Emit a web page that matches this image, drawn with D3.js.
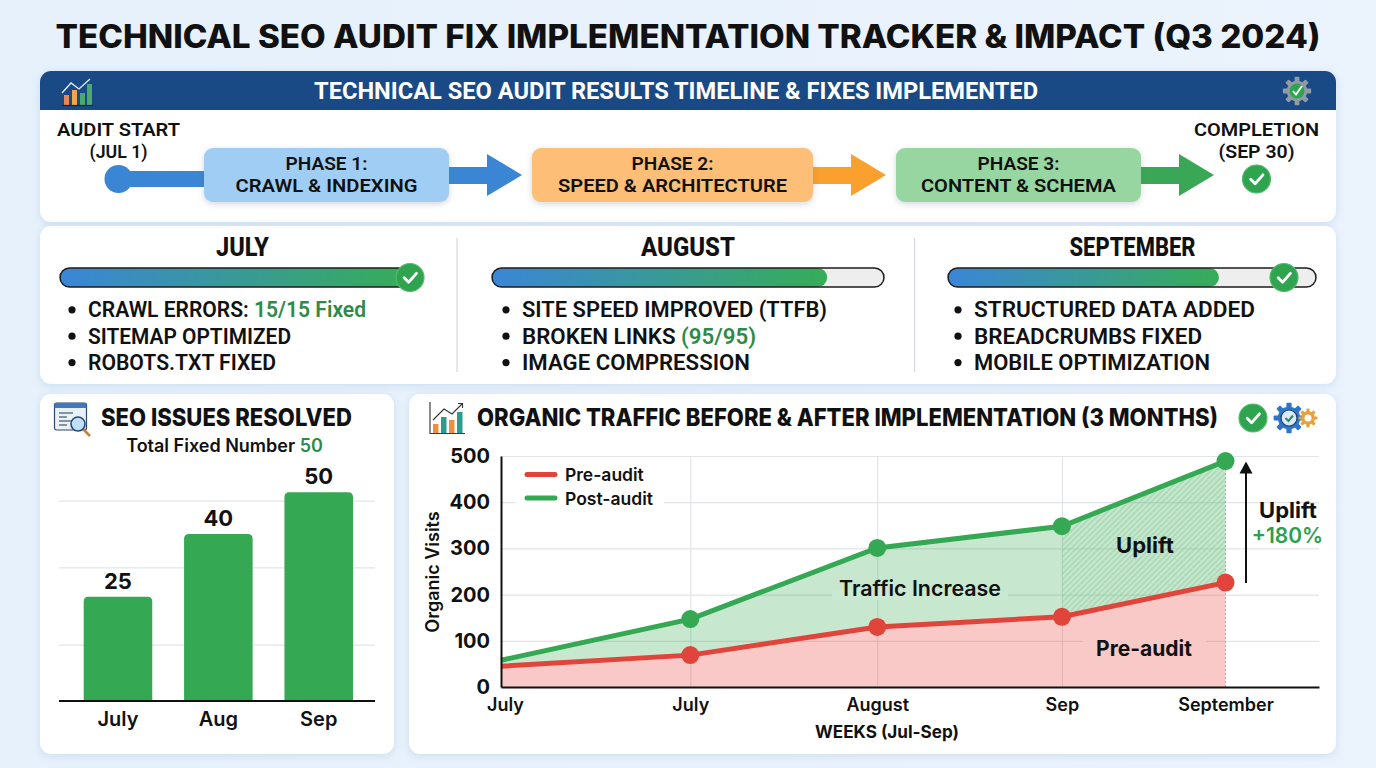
<!DOCTYPE html>
<html>
<head>
<meta charset="utf-8">
<script src="https://cdnjs.cloudflare.com/ajax/libs/d3/7.8.5/d3.min.js"></script>
<style>
  html, body { margin: 0; padding: 0; background: #e8f2fc; overflow: hidden; }
  svg { display: block; }
  text { fill: #111; font-family: Roboto, sans-serif; }
  .wide, .wide text { font-family: Inter, "Open Sans", sans-serif; }
</style>
</head>
<body>
<svg width="1376" height="768"></svg>
<script>
// ---- data ----
const mainTitle = "TECHNICAL SEO AUDIT FIX IMPLEMENTATION TRACKER & IMPACT (Q3 2024)";
const timelineTitle = "TECHNICAL SEO AUDIT RESULTS TIMELINE & FIXES IMPLEMENTED";

const phaseTitles = ["PHASE 1:", "PHASE 2:", "PHASE 3:"];
const phaseNames = ["CRAWL & INDEXING", "SPEED & ARCHITECTURE", "CONTENT & SCHEMA"];

const monthNames = ["JULY", "AUGUST", "SEPTEMBER"];
const monthProgress = [100, 85.5, 73.6];
const monthChecks = [100, null, 91.3];
const julyItems = ["CRAWL ERRORS: 15/15 Fixed", "SITEMAP OPTIMIZED", "ROBOTS.TXT FIXED"];
const augustItems = ["SITE SPEED IMPROVED (TTFB)", "BROKEN LINKS (95/95)", "IMAGE COMPRESSION"];
const septemberItems = ["STRUCTURED DATA ADDED", "BREADCRUMBS FIXED", "MOBILE OPTIMIZATION"];

const barMonths = ["July", "Aug", "Sep"];
const barValues = [25, 40, 50];
const barGridValues = [13.5, 32, 48];

const weekPositions = [0, 4.05, 8.05, 12, 15.5];
const weekLabels = ["July", "July", "August", "Sep", "September"];
const preAudit = [45, 69, 130, 152, 226];
const postAudit = [58, 147, 301, 348, 489];
const visitTicks = [0, 100, 200, 300, 400, 500];

// ---- helpers ----
const svg = d3.select("svg");
const defs = svg.append("defs");
const GREEN = "#34a853";
const TEXT_GREEN = "#2e8b47";
const RED = "#e0443a";

function label(parent, x, y, str, size, weight, opts = {}) {
  const t = parent.append("text")
    .attr("x", x)
    .attr("y", y)
    .attr("font-size", size)
    .attr("font-weight", weight)
    .attr("text-anchor", opts.anchor || "middle")
    .text(str);
  if (opts.fill) t.style("fill", opts.fill);
  if (opts.font) t.style("font-family", opts.font);
  if (opts.width) t.attr("textLength", opts.width).attr("lengthAdjust", "spacingAndGlyphs");
  return t;
}

function checkBadge(parent, cx, cy, r) {
  const g = parent.append("g").attr("transform", `translate(${cx},${cy})`);
  g.append("circle").attr("r", r).attr("fill", "#2ea44f").attr("stroke", "#57b96f").attr("stroke-width", 1.2);
  g.append("path")
    .attr("d", `M${-r * 0.42},${r * 0.02} L${-r * 0.1},${r * 0.34} L${r * 0.46},${-r * 0.3}`)
    .attr("fill", "none").attr("stroke", "#fff").attr("stroke-width", r * 0.2)
    .attr("stroke-linecap", "round").attr("stroke-linejoin", "round");
}

function gear(parent, cx, cy, r, fill) {
  const g = parent.append("g").attr("transform", `translate(${cx},${cy})`);
  d3.range(8).forEach((i) => {
    g.append("rect")
      .attr("x", -r * 0.2).attr("y", -r * 1.18)
      .attr("width", r * 0.4).attr("height", r * 0.5)
      .attr("rx", 1)
      .attr("fill", fill)
      .attr("transform", `rotate(${i * 45})`);
  });
  g.append("circle").attr("r", r * 0.86).attr("fill", fill);
  return g;
}

function panel(x, y, w, h) {
  return svg.append("rect")
    .attr("x", x).attr("y", y).attr("width", w).attr("height", h)
    .attr("rx", 11).attr("fill", "#fff")
    .style("filter", "drop-shadow(0 2px 4px rgba(110, 150, 200, 0.22))");
}

// ---- background and panels ----
const bg = defs.append("linearGradient").attr("id", "page-bg").attr("x1", "0%").attr("x2", "100%");
bg.append("stop").attr("offset", "0%").attr("stop-color", "#e6f1fb");
bg.append("stop").attr("offset", "100%").attr("stop-color", "#ebf3fd");
svg.append("rect").attr("width", 1376).attr("height", 768).attr("fill", "url(#page-bg)");

panel(40, 71, 1296, 151);
panel(40, 226, 1296, 158);
panel(40, 394, 354, 360);
panel(409, 394, 927, 360);

label(svg, 688, 48, mainTitle, 32, 800, { font: "Inter", width: 1265 });

// ---- timeline panel ----
svg.append("path")
  .attr("d", "M40,110 V82 A11,11 0 0 1 51,71 H1325 A11,11 0 0 1 1336,82 V110 Z")
  .attr("fill", "#1a4a85");
label(svg, 676, 99, timelineTitle, 24, 700, { width: 724 }).style("fill", "#fff");

// chart icon in the header
const hdrIcon = svg.append("g").attr("transform", "translate(62,78)");
[[2, 17, 10, "#e8875a"], [10, 12, 15, "#f0a64a"], [18, 15, 12, "#4aa96c"], [25, 6, 21, "#4aa96c"]].forEach((b) => {
  hdrIcon.append("rect").attr("x", b[0]).attr("y", b[1]).attr("width", 5).attr("height", b[2]).attr("fill", b[3]);
});
hdrIcon.append("path").attr("d", "M0,15 L9,5 L17,11 L28,1").attr("fill", "none").attr("stroke", "#e6eef7").attr("stroke-width", 1.3);
hdrIcon.append("path").attr("d", "M0,27.5 H31").attr("stroke", "#10253f").attr("stroke-width", 1.2);

// gear + check in the header
gear(svg, 1297, 91, 12, "#8f9ba6");
svg.append("circle").attr("cx", 1297).attr("cy", 91).attr("r", 7.5).attr("fill", "#2ea44f");
svg.append("path").attr("d", "M1293,91 L1296,94.5 L1302,86").attr("fill", "none").attr("stroke", "#fff").attr("stroke-width", 1.8);

// start marker
svg.append("rect").attr("x", 118).attr("y", 171).attr("width", 92).attr("height", 16).attr("fill", "#3b86d4");
svg.append("circle").attr("cx", 118.5).attr("cy", 179).attr("r", 14).attr("fill", "#3b86d4");
label(svg, 118.5, 136.3, "AUDIT START", 18.5, 600, { width: 123 });
label(svg, 118.5, 158, "(JUL 1)", 18.5, 600, { width: 58 });
label(svg, 1256.5, 136.3, "COMPLETION", 18.5, 600, { width: 125 });
label(svg, 1256.5, 158, "(SEP 30)", 18.5, 600, { width: 76 });
checkBadge(svg, 1256.5, 179, 14);

const phaseX = d3.scaleOrdinal().domain(phaseTitles).range([204, 532, 896]);
const phaseW = d3.scaleOrdinal().domain(phaseTitles).range([245, 281, 245]);
const phaseFill = d3.scaleOrdinal().domain(phaseTitles).range(["#9fcdf4", "#fdbe78", "#97d6a1"]);
const arrowFill = d3.scaleOrdinal().domain(phaseTitles).range(["#3b86d4", "#f9a02f", "#3aa757"]);
const arrowHead = d3.scaleOrdinal().domain(phaseTitles).range([487, 851, 1179]);
const phaseNameW = [182, 229, 195];

phaseTitles.forEach((p, i) => {
  const x0 = phaseX(p) + phaseW(p);
  const hx = arrowHead(p);
  svg.append("path")
    .attr("d", `M${x0 - 4},167 H${hx} V154 L${hx + 35},175 L${hx},196 V184 H${x0 - 4} Z`)
    .attr("fill", arrowFill(p));
  svg.append("rect")
    .attr("x", phaseX(p)).attr("y", 148).attr("width", phaseW(p)).attr("height", 54)
    .attr("rx", 9).attr("fill", phaseFill(p))
    .style("filter", "drop-shadow(0 2px 3px rgba(90, 110, 130, 0.28))");
  const cx = phaseX(p) + phaseW(p) / 2;
  label(svg, cx, 170.2, p, 18.5, 600, { width: 82 });
  label(svg, cx, 191.9, phaseNames[i], 18.5, 600, { width: phaseNameW[i] });
});

// ---- month panel ----
const progressGrad = defs.append("linearGradient").attr("id", "progress");
progressGrad.append("stop").attr("offset", "0%").attr("stop-color", "#3a86d8");
progressGrad.append("stop").attr("offset", "100%").attr("stop-color", "#37ad57");

const monthItems = [julyItems, augustItems, septemberItems];
const trackLeft = [60, 492, 948];
const trackRight = [410, 884, 1316];
const titleCenter = [242.5, 688, 1132.5];
const titleW = [53, 94, 126];
const bulletX = [72, 506, 958];
const itemW = [[278, 203, 188], [305, 234, 228], [281, 228, 236]];

monthNames.forEach((name, i) => {
  label(svg, titleCenter[i], 256, name, 25, 800, { width: titleW[i] });
  const x = d3.scaleLinear().domain([0, 100]).range([trackLeft[i], trackRight[i]]);
  svg.append("rect")
    .attr("x", x(0)).attr("y", 268).attr("width", x(100) - x(0)).attr("height", 19).attr("rx", 9.5)
    .attr("fill", "#eeeeee");
  svg.append("rect")
    .attr("x", x(0)).attr("y", 268).attr("width", x(monthProgress[i]) - x(0)).attr("height", 19).attr("rx", 9.5)
    .attr("fill", "url(#progress)");
  svg.append("rect")
    .attr("x", x(0)).attr("y", 268).attr("width", x(100) - x(0)).attr("height", 19).attr("rx", 9.5)
    .attr("fill", "none").attr("stroke", "#1c1c1c").attr("stroke-width", 1.5);
  if (monthChecks[i] !== null) checkBadge(svg, x(monthChecks[i]), 277.5, 14);

  monthItems[i].forEach((item, j) => {
    const y = 317.3 + j * 26.4;
    svg.append("circle").attr("cx", bulletX[i]).attr("cy", y - 7.5).attr("r", 3.6).attr("fill", "#111");
    const t = label(svg, bulletX[i] + 16, y, null, 22, 600, { anchor: "start", width: itemW[i][j] });
    item.split(/(15\/15 Fixed|\(95\/95\))/).filter((s) => s).forEach((part) => {
      const hit = /15\/15|95\/95/.test(part);
      t.append("tspan").text(part).style("fill", hit ? TEXT_GREEN : "#111");
    });
  });
});

[457, 914.5].forEach((x) => {
  svg.append("line").attr("x1", x).attr("x2", x).attr("y1", 238).attr("y2", 372).attr("stroke", "#d5d8dc").attr("stroke-width", 1.2);
});

// ---- issues resolved bar chart ----
const issues = svg.append("g").attr("class", "wide");
label(issues, 226.5, 426, "SEO ISSUES RESOLVED", 24, 800, { width: 251 });
const totalText = label(issues, 224.5, 452, null, 18, 600);
totalText.append("tspan").text("Total Fixed Number ");
totalText.append("tspan").text(d3.max(barValues)).style("fill", TEXT_GREEN);

// window + magnifier icon
const winIcon = svg.append("g").attr("transform", "translate(54,402)");
winIcon.append("rect").attr("x", 0.5).attr("y", 1).attr("width", 32).attr("height", 27).attr("rx", 2)
  .attr("fill", "#e9f0f8").attr("stroke", "#2b4a73").attr("stroke-width", 1.2);
winIcon.append("rect").attr("x", 0.5).attr("y", 1).attr("width", 32).attr("height", 5).attr("fill", "#3f78c0");
[11, 15, 19, 23].forEach((y, i) => {
  winIcon.append("path").attr("d", `M5,${y} H${i % 2 ? 13 : 19}`).attr("stroke", "#45566b").attr("stroke-width", 1.2);
});
winIcon.append("line").attr("x1", 29).attr("y1", 27).attr("x2", 36).attr("y2", 34).attr("stroke", "#c9813a").attr("stroke-width", 2.6);
winIcon.append("circle").attr("cx", 24).attr("cy", 22).attr("r", 7).attr("fill", "#bfe0f5").attr("stroke", "#2b4a73").attr("stroke-width", 1.6);

const barX = d3.scaleBand().domain(barMonths).range([83.7, 353]).paddingInner(0.317);
const barY = d3.scaleLinear().domain([0, 50]).range([701, 492.3]);

issues.append("g")
  .attr("transform", "translate(59,0)")
  .call(d3.axisLeft(barY).tickValues(barGridValues).tickSize(-316).tickFormat(""))
  .call((g) => g.select(".domain").remove())
  .call((g) => g.selectAll("line").attr("stroke", "#e3e5e8").attr("stroke-width", 1.2));

issues.selectAll("path.bar")
  .data(barValues)
  .join("path")
  .attr("class", "bar")
  .attr("fill", GREEN)
  .attr("d", (d, i) => {
    const x = barX(barMonths[i]);
    const w = barX.bandwidth();
    const r = 5;
    return `M${x},${barY(0)} V${barY(d) + r} Q${x},${barY(d)} ${x + r},${barY(d)} H${x + w - r} Q${x + w},${barY(d)} ${x + w},${barY(d) + r} V${barY(0)} Z`;
  });

issues.selectAll("text.value")
  .data(barValues)
  .join("text")
  .attr("class", "value")
  .attr("x", (d, i) => barX(barMonths[i]) + barX.bandwidth() / 2)
  .attr("y", (d) => barY(d) - 8)
  .attr("text-anchor", "middle")
  .attr("font-size", 22)
  .attr("font-weight", 700)
  .text((d) => d);

issues.append("g")
  .attr("transform", "translate(0,701)")
  .call(d3.axisBottom(barX).tickSize(0).tickPadding(11))
  .call((g) => g.select(".domain").remove())
  .call((g) => g.selectAll("text").attr("font-size", 20).attr("font-weight", 600).attr("font-family", null).style("fill", "#111"));
issues.append("line").attr("x1", 59).attr("x2", 375).attr("y1", 701).attr("y2", 701).attr("stroke", "#111").attr("stroke-width", 2);

// ---- organic traffic chart ----
const traffic = svg.append("g").attr("class", "wide");
label(traffic, 477, 426, "ORGANIC TRAFFIC BEFORE & AFTER IMPLEMENTATION (3 MONTHS)", 24, 800, { anchor: "start", width: 741 });

// chart icon
const chartIcon = svg.append("g").attr("transform", "translate(429,402)");
chartIcon.append("path").attr("d", "M1,0 V31.5 H36").attr("fill", "none").attr("stroke", "#3b3f45").attr("stroke-width", 1.2);
[[4, 22, 9, "#ef8f3e"], [12, 15, 16, "#2a9d8f"], [20, 18, 13, "#ef8f3e"], [28, 10, 21, "#2a9d8f"]].forEach((b) => {
  chartIcon.append("rect").attr("x", b[0]).attr("y", b[1]).attr("width", 5.5).attr("height", b[2]).attr("fill", b[3]);
});
chartIcon.append("path").attr("d", "M4,18 L15,7 L23,12 L33,2 M29,1.5 H33.5 V6").attr("fill", "none").attr("stroke", "#333").attr("stroke-width", 1.1);

checkBadge(svg, 1253, 418, 14);
gear(svg, 1289, 418, 13, "#2f74c9");
svg.append("circle").attr("cx", 1289).attr("cy", 418).attr("r", 8).attr("fill", "#dbeaf8").attr("stroke", "#1e3f66").attr("stroke-width", 1.2);
svg.append("path").attr("d", "M1285.5,418 L1288.5,421 L1293,415.5").attr("fill", "none").attr("stroke", "#2a8a62").attr("stroke-width", 2);
gear(svg, 1308, 418, 8, "#e6a23c");
svg.append("circle").attr("cx", 1308).attr("cy", 418).attr("r", 3.5).attr("fill", "#fff");

const x = d3.scaleLinear().domain([0, 17.5]).range([501, 1319]);
const y = d3.scaleLinear().domain([0, 500]).range([687, 456]);

traffic.append("g")
  .attr("transform", "translate(501,0)")
  .call(d3.axisLeft(y).tickValues(visitTicks.slice(1)).tickSize(-818).tickFormat(""))
  .call((g) => g.select(".domain").remove())
  .call((g) => g.selectAll("line").attr("stroke", "#e1e4e8").attr("stroke-width", 1.2));
traffic.append("g")
  .attr("transform", "translate(0,687)")
  .call(d3.axisBottom(x).tickValues(weekPositions.slice(1, 4)).tickSize(-231).tickFormat(""))
  .call((g) => g.select(".domain").remove())
  .call((g) => g.selectAll("line").attr("stroke", "#dfe2e5").attr("stroke-width", 1.1));

// white gap in the grid behind the legend
traffic.append("rect").attr("x", 516).attr("y", 462).attr("width", 148).attr("height", 52).attr("fill", "#fff");

const pts = weekPositions.map((w, i) => ({ w, pre: preAudit[i], post: postAudit[i] }));
const gapArea = d3.area().x((d) => x(d.w)).y0((d) => y(d.pre)).y1((d) => y(d.post));
const preArea = d3.area().x((d) => x(d.w)).y0(y(0)).y1((d) => y(d.pre));
const preLine = d3.line().x((d) => x(d.w)).y((d) => y(d.pre));
const postLine = d3.line().x((d) => x(d.w)).y((d) => y(d.post));

const hatch = defs.append("pattern").attr("id", "hatch")
  .attr("width", 4).attr("height", 4)
  .attr("patternUnits", "userSpaceOnUse")
  .attr("patternTransform", "rotate(-45)");
hatch.append("line").attr("x1", 0).attr("x2", 4).attr("y1", 1).attr("y2", 1).attr("stroke", "#93cfa2").attr("stroke-width", 1);

traffic.append("path").attr("d", gapArea(pts)).attr("fill", "#2fa84f").attr("fill-opacity", 0.27);
traffic.append("path").attr("d", gapArea(pts.slice(3))).attr("fill", "url(#hatch)");
traffic.append("path").attr("d", preArea(pts)).attr("fill", "#e8453c").attr("fill-opacity", 0.29);

// grid gaps behind the in-chart labels
traffic.append("rect").attr("x", 832).attr("y", 590).attr("width", 176).attr("height", 10).attr("fill", "#c9e9d2");
traffic.append("rect").attr("x", 1083).attr("y", 637).attr("width", 123).attr("height", 10).attr("fill", "#f8cac7");

traffic.append("line")
  .attr("x1", x(weekPositions[4])).attr("x2", x(weekPositions[4]))
  .attr("y1", y(postAudit[4])).attr("y2", y(0))
  .attr("stroke", "#9fb6a8").attr("stroke-width", 1).attr("stroke-dasharray", "2,2");

traffic.append("path").attr("d", preLine(pts)).attr("fill", "none").attr("stroke", RED).attr("stroke-width", 5);
traffic.append("path").attr("d", postLine(pts)).attr("fill", "none").attr("stroke", GREEN).attr("stroke-width", 5);

[[preAudit, RED], [postAudit, GREEN]].forEach(([vals, col]) => {
  traffic.append("g").selectAll("circle")
    .data(vals.slice(1))
    .join("circle")
    .attr("cx", (d, i) => x(weekPositions[i + 1]))
    .attr("cy", (d) => y(d))
    .attr("r", 9)
    .attr("fill", col);
});

// axes
traffic.append("g")
  .attr("transform", "translate(501,0)")
  .call(d3.axisLeft(y).tickValues(visitTicks).tickSize(0).tickPadding(11))
  .call((g) => g.select(".domain").attr("stroke", "#111").attr("stroke-width", 2))
  .call((g) => g.selectAll("text").attr("font-size", 20).attr("font-weight", 700).attr("font-family", null).style("fill", "#111"));

traffic.append("g")
  .attr("transform", "translate(0,687)")
  .call(d3.axisBottom(x).tickValues(weekPositions).tickSize(0).tickPadding(11)
    .tickFormat((d, i) => weekLabels[i]))
  .call((g) => g.select(".domain").attr("stroke", "#111").attr("stroke-width", 2))
  .call((g) => g.selectAll("text").attr("font-size", 18).attr("font-weight", 600).attr("font-family", null).style("fill", "#111"))
  .call((g) => g.select(".tick text").attr("dx", 4));

label(traffic, 887, 738, "WEEKS (Jul-Sep)", 17, 700, { width: 144 });
label(traffic, 0, 0, "Organic Visits", 18, 600)
  .attr("transform", "translate(439,572) rotate(-90)");

// legend
[["Pre-audit", RED, 474.5], ["Post-audit", GREEN, 498]].forEach(([name, col, ly]) => {
  traffic.append("line").attr("x1", 527).attr("x2", 555).attr("y1", ly).attr("y2", ly)
    .attr("stroke", col).attr("stroke-width", 5).attr("stroke-linecap", "round");
  label(traffic, 565, ly + 6.5, name, 17.5, 600, { anchor: "start" });
});

// annotations
label(traffic, 920, 596, "Traffic Increase", 21, 600, { width: 162 });
label(traffic, 1145, 553, "Uplift", 22, 700);
label(traffic, 1144, 656, "Pre-audit", 21, 700);
label(traffic, 1288, 518, "Uplift", 22, 700);
label(traffic, 1287.5, 543, "+180%", 21, 600, { fill: "#2e9e4f" });

traffic.append("line").attr("x1", 1246).attr("x2", 1246).attr("y1", 583).attr("y2", 472).attr("stroke", "#111").attr("stroke-width", 2);
traffic.append("path").attr("d", "M1246,461.5 L1252.5,473.5 H1239.5 Z").attr("fill", "#111");
</script>
</body>
</html>
